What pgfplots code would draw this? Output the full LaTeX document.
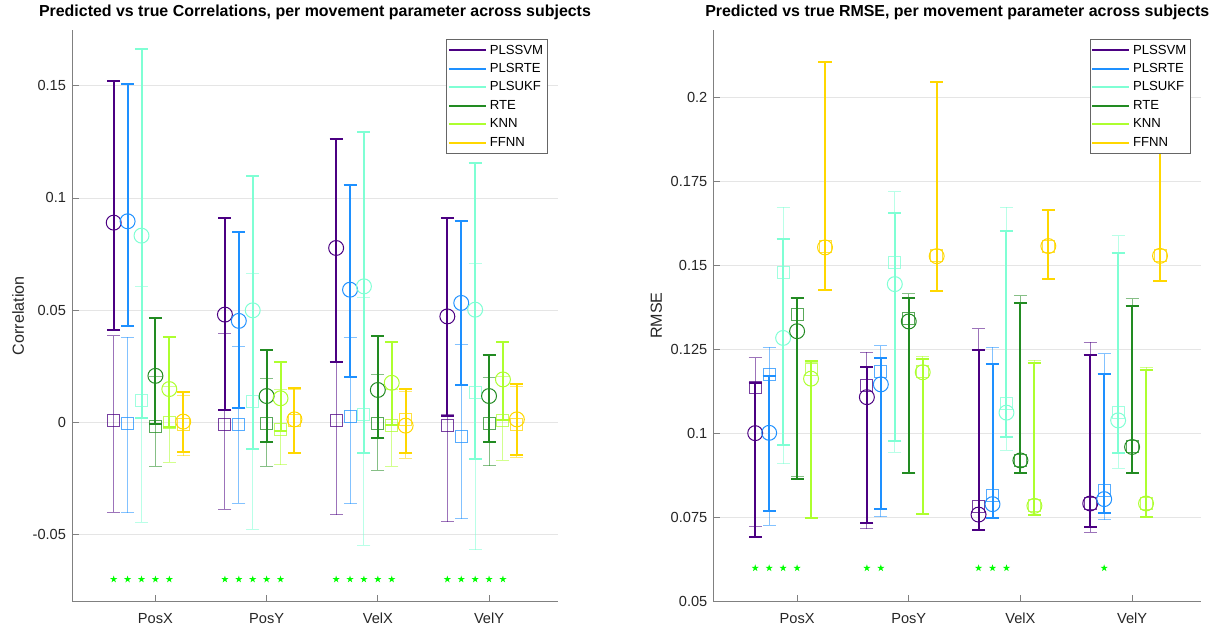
\documentclass[border=0pt]{standalone}
\usepackage{pgfplots}
\pgfplotsset{compat=1.18}
\usepackage{pgfplotstable}
\usepackage{fontspec}
\setmainfont{Liberation Sans}

\definecolor{c1}{RGB}{75,0,130}
\definecolor{c2}{RGB}{30,144,255}
\definecolor{c3}{RGB}{127,255,212}
\definecolor{c4}{RGB}{34,139,34}
\definecolor{c5}{RGB}{173,255,47}
\definecolor{c6}{RGB}{255,215,0}
\definecolor{sg}{RGB}{0,255,0}

\pgfdeclareplotmark{fstar}{%
  \pgfpathmoveto{\pgfpointpolar{90}{\pgfplotmarksize}}%
  \pgfpathlineto{\pgfpointpolar{126}{0.382\pgfplotmarksize}}%
  \pgfpathlineto{\pgfpointpolar{162}{\pgfplotmarksize}}%
  \pgfpathlineto{\pgfpointpolar{198}{0.382\pgfplotmarksize}}%
  \pgfpathlineto{\pgfpointpolar{234}{\pgfplotmarksize}}%
  \pgfpathlineto{\pgfpointpolar{270}{0.382\pgfplotmarksize}}%
  \pgfpathlineto{\pgfpointpolar{306}{\pgfplotmarksize}}%
  \pgfpathlineto{\pgfpointpolar{342}{0.382\pgfplotmarksize}}%
  \pgfpathlineto{\pgfpointpolar{18}{\pgfplotmarksize}}%
  \pgfpathlineto{\pgfpointpolar{54}{0.382\pgfplotmarksize}}%
  \pgfpathclose\pgfusepathqfill}

% Correlation panel: g c cl ch (predicted, circles) s sl sh (true, squares)
\pgfplotstableread{
g c cl ch s sl sh
1 0.0890 0.0410 0.1520 0.0010 -0.0400 0.0385
2 0.0480 0.0055 0.0910 -0.0008 -0.0387 0.0396
3 0.0777 0.0270 0.1265 0.0006 -0.0413 0.0270
4 0.0472 0.0030 0.0910 -0.0016 -0.0444 0.0035
}\LA
\pgfplotstableread{
g c cl ch s sl sh
1 0.0896 0.0427 0.1510 -0.0004 -0.0404 0.0378
2 0.0452 0.0062 0.0847 -0.0010 -0.0360 0.0340
3 0.0591 0.0203 0.1059 0.0025 -0.0364 0.0380
4 0.0532 0.0164 0.0896 -0.0064 -0.0431 0.0348
}\LB
\pgfplotstableread{
g c cl ch s sl sh
1 0.0832 0.0020 0.1665 0.0096 -0.0446 0.0605
2 0.0499 -0.0120 0.1100 0.0092 -0.0476 0.0662
3 0.0606 -0.0135 0.1296 0.0036 -0.0548 0.0556
4 0.0502 -0.0163 0.1156 0.0132 -0.0568 0.0707
}\LC
\pgfplotstableread{
g c cl ch s sl sh
1 0.0207 -0.0008 0.0467 -0.0020 -0.0197 0.0203
2 0.0117 -0.0089 0.0323 -0.0004 -0.0197 0.0196
3 0.0144 -0.0071 0.0384 -0.0004 -0.0213 0.0215
4 0.0117 -0.0089 0.0299 -0.0004 -0.0193 0.0198
}\LD
\pgfplotstableread{
g c cl ch s sl sh
1 0.0148 -0.0020 0.0378 -0.0002 -0.0178 0.0161
2 0.0107 -0.0040 0.0267 -0.0034 -0.0190 0.0147
3 0.0176 -0.0010 0.0357 -0.0015 -0.0197 0.0144
4 0.0191 0.0010 0.0356 0.0006 -0.0169 0.0206
}\LE
\pgfplotstableread{
g c cl ch s sl sh
1 0.0003 -0.0131 0.0136 -0.0008 -0.0150 0.0118
2 0.0013 -0.0135 0.0151 0.0010 -0.0138 0.0144
3 -0.0015 -0.0135 0.0147 0.0013 -0.0160 0.0136
4 0.0013 -0.0148 0.0170 -0.0008 -0.0155 0.0160
}\LF

% RMSE panel
\pgfplotstableread{
g c cl ch s sl sh
1 0.1001 0.0691 0.1150 0.1138 0.0724 0.1225
2 0.1108 0.0733 0.1197 0.1142 0.0717 0.1241
3 0.0759 0.0713 0.1249 0.0784 0.0716 0.1311
4 0.0792 0.0721 0.1232 0.0793 0.0707 0.1271
}\RA
\pgfplotstableread{
g c cl ch s sl sh
1 0.1002 0.0769 0.1172 0.1174 0.0727 0.1256
2 0.1146 0.0776 0.1223 0.1185 0.0752 0.1261
3 0.0790 0.0750 0.1207 0.0816 0.0750 0.1256
4 0.0805 0.0765 0.1177 0.0831 0.0744 0.1237
}\RB
\pgfplotstableread{
g c cl ch s sl sh
1 0.1284 0.0967 0.1577 0.1477 0.0910 0.1673
2 0.1444 0.0977 0.1654 0.1507 0.0945 0.1719
3 0.1062 0.0989 0.1602 0.1088 0.0950 0.1673
4 0.1039 0.0942 0.1536 0.1063 0.0896 0.1587
}\RC
\pgfplotstableread{
g c cl ch s sl sh
1 0.1304 0.0866 0.1403 0.1353 0.0871 0.1400
2 0.1333 0.0883 0.1403 0.1343 0.0883 0.1416
3 0.0920 0.0883 0.1387 0.0921 0.0883 0.1410
4 0.0960 0.0883 0.1380 0.0960 0.0883 0.1400
}\RD
\pgfplotstableread{
g c cl ch s sl sh
1 0.1163 0.0749 0.1215 0.1189 0.0750 0.1210
2 0.1182 0.0762 0.1221 0.1183 0.0762 0.1229
3 0.0785 0.0757 0.1211 0.0785 0.0757 0.1217
4 0.0792 0.0752 0.1189 0.0792 0.0752 0.1197
}\RE
\pgfplotstableread{
g c cl ch s sl sh
1 0.1553 0.1426 0.2103 0.1555 0.1426 0.2103
2 0.1527 0.1424 0.2045 0.1530 0.1424 0.2045
3 0.1557 0.1459 0.1664 0.1557 0.1459 0.1664
4 0.1528 0.1452 0.2050 0.1530 0.1452 0.2050
}\RF

\newcommand{\meth}[3]{%
\addplot[forget plot, only marks, color=#2, mark=square, mark size=4.5bp,
  mark options={line width=0.75bp, opacity=0.75},
  error bars/.cd, y dir=both, y explicit,
  error bar style={line width=0.75bp, color=#2, opacity=0.55},
  error mark options={rotate=90, mark size=4.9bp, line width=0.75bp, color=#2, opacity=0.55}]
  table[x expr=\thisrow{g}+#3, y=s, y error plus expr=\thisrow{sh}-\thisrow{s}, y error minus expr=\thisrow{s}-\thisrow{sl}] {#1};
\addplot[forget plot, only marks, color=#2, mark=o, mark size=5.6bp,
  mark options={line width=0.75bp},
  error bars/.cd, y dir=both, y explicit,
  error bar style={line width=1.5bp, color=#2},
  error mark options={rotate=90, mark size=4.9bp, line width=1.5bp, color=#2}]
  table[x expr=\thisrow{g}+#3, y=c, y error plus expr=\thisrow{ch}-\thisrow{c}, y error minus expr=\thisrow{c}-\thisrow{cl}] {#1};
}

\pgfplotsset{myax/.style={
  scale only axis, width=364.5bp, height=429bp,
  xmin=0.25, xmax=4.62, xtick={1,2,3,4}, xticklabels={PosX,PosY,VelX,VelY},
  axis lines*=left, axis line style={black!50, line width=0.6bp},
  tick style={black!50, line width=0.6bp}, tick align=inside, major tick length=5bp,
  ymajorgrids, grid style={black!10, line width=0.6bp},
  ticklabel style={font=\fontsize{11}{13}\selectfont, text=black!85},
  x tick label style={yshift=-5bp},
  y tick label style={xshift=-1bp},
  label style={font=\fontsize{12.1}{14}\selectfont, text=black!85},
  every axis title shift=0pt,
  title style={font=\fontsize{12}{14}\selectfont\bfseries, at={(0.5,1.0297)}, anchor=center},
  legend style={at={(0.979,0.983)}, anchor=north east, draw=black!60, line width=0.6bp,
    font=\fontsize{9.9}{11}\selectfont, inner sep=1pt, row sep=0pt,
    nodes={inner sep=2.2pt, text height=7.5pt, text depth=2pt}},
  legend image code/.code={\draw[##1] (0bp,0bp) -- (27.7bp,0bp);},
  legend cell align=left,
  /pgf/number format/assume math mode=true,
}}

\begin{document}
\begin{tikzpicture}
\useasboundingbox (0,0) rectangle (917.25bp,469.5bp);
\begin{axis}[myax, at={(54bp,18.2bp)}, anchor=south west,
  ymin=-0.08, ymax=0.175, ytick={-0.05,0,0.05,0.1,0.15},
  yticklabels={-0.05,0,0.05,0.1,0.15},
  ylabel={Correlation}, ylabel style={at={(axis description cs:-0.111,0.5)}, anchor=center},
  title={Predicted vs true Correlations, per movement parameter across subjects}]
\addlegendimage{c1, line width=1.5bp}\addlegendentry{PLSSVM}
\addlegendimage{c2, line width=1.5bp}\addlegendentry{PLSRTE}
\addlegendimage{c3, line width=1.5bp}\addlegendentry{PLSUKF}
\addlegendimage{c4, line width=1.5bp}\addlegendentry{RTE}
\addlegendimage{c5, line width=1.5bp}\addlegendentry{KNN}
\addlegendimage{c6, line width=1.5bp}\addlegendentry{FFNN}
\meth{\LA}{c1}{-0.375}
\meth{\LB}{c2}{-0.25}
\meth{\LC}{c3}{-0.125}
\meth{\LD}{c4}{0}
\meth{\LE}{c5}{0.125}
\meth{\LF}{c6}{0.25}
\addplot[forget plot, only marks, mark=fstar, mark size=2.8bp, color=sg] coordinates {
(0.625,-0.07) (0.75,-0.07) (0.875,-0.07) (1,-0.07) (1.125,-0.07)
(1.625,-0.07) (1.75,-0.07) (1.875,-0.07) (2,-0.07) (2.125,-0.07)
(2.625,-0.07) (2.75,-0.07) (2.875,-0.07) (3,-0.07) (3.125,-0.07)
(3.625,-0.07) (3.75,-0.07) (3.875,-0.07) (4,-0.07) (4.125,-0.07)};
\end{axis}
\begin{axis}[myax, at={(535bp,18.2bp)}, anchor=south west, width=366bp,
  ymin=0.05, ymax=0.22, ytick={0.05,0.075,0.1,0.125,0.15,0.175,0.2},
  yticklabels={0.05,0.075,0.1,0.125,0.15,0.175,0.2},
  ylabel={RMSE}, ylabel style={at={(axis description cs:-0.117,0.5)}, anchor=center},
  title={Predicted vs true RMSE, per movement parameter across subjects}]
\addlegendimage{c1, line width=1.5bp}\addlegendentry{PLSSVM}
\addlegendimage{c2, line width=1.5bp}\addlegendentry{PLSRTE}
\addlegendimage{c3, line width=1.5bp}\addlegendentry{PLSUKF}
\addlegendimage{c4, line width=1.5bp}\addlegendentry{RTE}
\addlegendimage{c5, line width=1.5bp}\addlegendentry{KNN}
\addlegendimage{c6, line width=1.5bp}\addlegendentry{FFNN}
\meth{\RA}{c1}{-0.375}
\meth{\RB}{c2}{-0.25}
\meth{\RC}{c3}{-0.125}
\meth{\RD}{c4}{0}
\meth{\RE}{c5}{0.125}
\meth{\RF}{c6}{0.25}
\addplot[forget plot, only marks, mark=fstar, mark size=2.8bp, color=sg] coordinates {
(0.625,0.06) (0.75,0.06) (0.875,0.06) (1,0.06)
(1.625,0.06) (1.75,0.06)
(2.625,0.06) (2.75,0.06) (2.875,0.06)
(3.75,0.06)};
\end{axis}
\end{tikzpicture}
\end{document}
